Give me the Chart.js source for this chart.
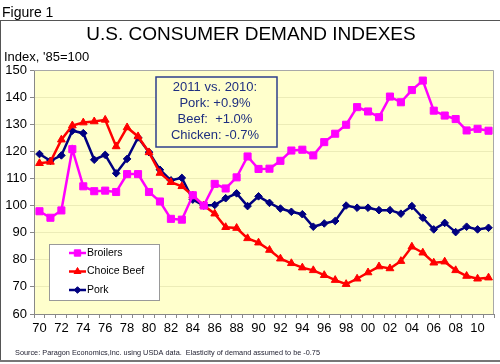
<!DOCTYPE html>
<html>
<head>
<meta charset="utf-8">
<script src="https://cdn.jsdelivr.net/npm/chart.js@4.4.0/dist/chart.umd.min.js"></script>
<style>
  html, body { margin: 0; padding: 0; background: #fff; }
  canvas { display: block; }
</style>
</head>
<body>
<canvas id="demandChart" width="500" height="364"></canvas>
<script>
// =============================
// DATA (index, 1985 = 100)
// =============================
const years = [
  '70', '71', '72', '73', '74', '75', '76', '77', '78', '79',
  '80', '81', '82', '83', '84', '85', '86', '87', '88', '89',
  '90', '91', '92', '93', '94', '95', '96', '97', '98', '99',
  '00', '01', '02', '03', '04', '05', '06', '07', '08', '09',
  '10', '11'
];

const broilers = [
  97.9, 95.5, 98.2, 120.8, 107.1, 105.3, 105.5, 105.0, 111.6, 111.6,
  105.0, 101.5, 95.1, 94.8, 103.8, 100.0, 108.0, 106.3, 110.4, 118.1,
  113.5, 113.6, 116.5, 120.3, 120.6, 118.5, 123.4, 126.5, 129.8, 136.3,
  134.7, 132.6, 140.2, 138.1, 142.6, 146.1, 135.0, 133.2, 131.9, 127.7,
  128.3, 127.6
];

const choiceBeef = [
  115.6, 116.1, 124.3, 129.5, 130.6, 131.0, 131.6, 121.8, 128.8, 125.5,
  119.6, 112.0, 108.6, 107.1, 103.7, 100.0, 97.0, 92.0, 91.7, 87.9,
  86.3, 83.6, 80.4, 78.7, 77.1, 76.1, 74.3, 72.5, 71.0, 73.0,
  75.3, 77.5, 76.8, 79.5, 84.8, 82.6, 78.9, 79.3, 76.1, 74.0,
  73.0, 73.4
];

const pork = [
  119.0, 116.5, 118.5, 127.6, 126.7, 116.9, 118.7, 111.9, 117.2, 125.1,
  119.7, 113.2, 109.3, 110.2, 102.2, 100.0, 100.2, 102.7, 104.5, 99.8,
  103.4, 101.0, 98.9, 97.7, 96.8, 92.2, 93.4, 94.3, 100.0, 99.2,
  99.2, 98.3, 98.3, 97.0, 99.8, 95.5, 91.2, 93.6, 90.2, 92.2,
  91.2, 91.8
];

const yMin = 60;
const yMax = 150;
const yStep = 10;

const noteLines = ['2011 vs. 2010:', 'Pork: +0.9%', 'Beef:  +1.0%', 'Chicken: -0.7%'];

const FONT = 'Arial, "Liberation Sans", sans-serif';

// =============================
// SERIES
// =============================
const series = [
  { label: 'Broilers', data: broilers, color: '#FF00FF', style: 'rect', radius: 5 },
  { label: 'Choice Beef', data: choiceBeef, color: '#FF0000', style: 'triangle', radius: 4.5 },
  { label: 'Pork', data: pork, color: '#000080', style: 'rectRot', radius: 3.8 },
];

// little helper for the legend markers
function marker(ctx, s, x, y) {
  ctx.save();
  ctx.fillStyle = s.color;
  ctx.strokeStyle = s.color;
  ctx.lineWidth = 1;
  if (Chart.helpers && Chart.helpers.drawPoint) {
    Chart.helpers.drawPoint(ctx, { pointStyle: s.style, radius: s.radius - 0.5, rotation: 0, borderWidth: 1 }, x, y);
  }
  ctx.restore();
}

// =============================
// PLUGIN: background, frame, texts
// =============================
const decorPlugin = {
  id: 'decor',
  beforeDraw(chart) {
    const { ctx, chartArea: a } = chart;
    ctx.save();
    ctx.fillStyle = '#fff';
    ctx.fillRect(0, 0, chart.width, chart.height);
    ctx.fillStyle = '#FFFFCC';
    ctx.fillRect(a.left, a.top, a.right - a.left, a.bottom - a.top);
    ctx.restore();
  },
  beforeDatasetsDraw(chart) {
    const { ctx, chartArea: a } = chart;
    ctx.save();
    ctx.strokeStyle = '#A8A8A8';
    ctx.lineWidth = 1;
    ctx.beginPath();
    ctx.moveTo(a.left, a.top + 0.5);
    ctx.lineTo(a.right - 0.5, a.top + 0.5);
    ctx.lineTo(a.right - 0.5, a.bottom);
    ctx.stroke();
    ctx.restore();
  },
  afterDraw(chart) {
    const { ctx } = chart;
    ctx.save();

    // outer frame
    ctx.strokeStyle = '#555';
    ctx.lineWidth = 1;
    ctx.beginPath();
    ctx.moveTo(0, 20.5);
    ctx.lineTo(500, 20.5);
    ctx.moveTo(0.5, 20);
    ctx.lineTo(0.5, 361);
    ctx.stroke();
    ctx.strokeStyle = '#777';
    ctx.lineWidth = 2;
    ctx.beginPath();
    ctx.moveTo(0, 361);
    ctx.lineTo(500, 361);
    ctx.stroke();

    // texts
    ctx.fillStyle = '#000';
    ctx.textBaseline = 'alphabetic';
    ctx.textAlign = 'left';
    ctx.font = '14px ' + FONT;
    ctx.fillText('Figure 1', 2, 17);

    ctx.textAlign = 'center';
    ctx.font = '19px ' + FONT;
    ctx.fillText('U.S. CONSUMER DEMAND INDEXES', 251, 40);

    ctx.textAlign = 'left';
    ctx.font = '13px ' + FONT;
    ctx.fillText("Index, '85=100", 4, 61);

    ctx.fillStyle = '#222233';
    ctx.font = '8px ' + FONT;
    ctx.fillText('Source: Paragon Economics,Inc. using USDA data.  Elasticity of demand assumed to be -0.75', 15, 355, 305);

    // note box
    ctx.fillStyle = '#FFFFCC';
    ctx.fillRect(156, 77, 121, 70);
    ctx.strokeStyle = '#2E3F8C';
    ctx.lineWidth = 1.5;
    ctx.strokeRect(156, 77, 121, 70);
    ctx.fillStyle = '#1F2F80';
    ctx.font = '13px ' + FONT;
    ctx.textAlign = 'center';
    ctx.textBaseline = 'middle';
    noteLines.forEach((t, i) => ctx.fillText(t, 215, 87 + i * 16));

    // legend box
    ctx.fillStyle = '#fff';
    ctx.fillRect(49, 244, 110, 56);
    ctx.strokeStyle = '#999';
    ctx.lineWidth = 1;
    ctx.strokeRect(49.5, 244.5, 110, 56);
    ctx.font = '10.5px ' + FONT;
    ctx.textAlign = 'left';
    series.forEach((s, i) => {
      const y = 253 + i * 18.5;
      ctx.strokeStyle = s.color;
      ctx.lineWidth = 2.5;
      ctx.beginPath();
      ctx.moveTo(69, y);
      ctx.lineTo(86, y);
      ctx.stroke();
      marker(ctx, s, 77.5, y);
      ctx.fillStyle = '#000';
      ctx.fillText(s.label, 87, y);
    });

    ctx.restore();
  }
};

// =============================
// CHART
// =============================
const ctx = document.getElementById('demandChart').getContext('2d');

new Chart(ctx, {
  type: 'line',
  data: {
    labels: years,
    datasets: series.map(s => ({
      label: s.label,
      data: s.data,
      borderColor: s.color,
      backgroundColor: s.color,
      borderWidth: 2.5,
      pointStyle: s.style,
      pointRadius: s.radius,
      pointBorderWidth: 1,
      fill: false,
      tension: 0
    }))
  },
  options: {
    responsive: false,
    devicePixelRatio: 1,
    animation: false,
    layout: { padding: { top: 70, right: 3, bottom: 0, left: 0 } },
    plugins: {
      legend: { display: false },
      tooltip: { enabled: false },
      title: { display: false }
    },
    scales: {
      x: {
        offset: true,
        afterFit(scale) { scale.height = 50; },
        grid: {
          offset: true,
          drawOnChartArea: false,
          drawTicks: true,
          tickLength: 4,
          tickColor: '#888'
        },
        border: { color: '#888', width: 1 },
        ticks: {
          autoSkip: false,
          maxRotation: 0,
          padding: 3,
          color: '#000',
          font: { family: FONT, size: 13 },
          callback: (val, i) => (i % 2 === 0 ? years[i] : '')
        }
      },
      y: {
        min: yMin,
        max: yMax,
        afterFit(scale) { scale.width = 34; },
        grid: {
          color: 'rgba(150,150,90,0.18)',
          tickColor: '#888',
          tickLength: 4
        },
        border: { color: '#888', width: 1 },
        ticks: {
          stepSize: yStep,
          padding: 3,
          color: '#000',
          font: { family: FONT, size: 13 }
        }
      }
    }
  },
  plugins: [decorPlugin]
});
</script>
</body>
</html>
